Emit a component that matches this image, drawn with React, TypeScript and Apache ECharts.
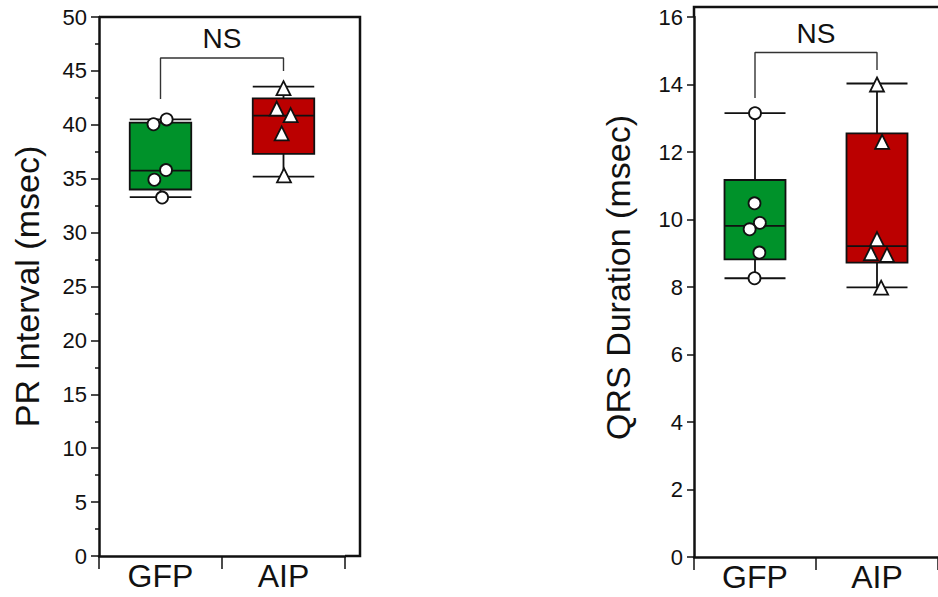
import React, { useEffect, useRef } from "react";
import * as echarts from "echarts";

// ---- data ----
const categories = ["GFP", "AIP"];

// PR interval (msec): boxplot stats [min, Q1, median, Q3, max]
const prBoxGFP = [33.3, 34.0, 35.75, 40.2, 40.5];
const prBoxAIP = [35.2, 37.3, 40.85, 42.45, 43.55];
const prGfpPoints = [40.05, 40.5, 35.8, 34.9, 33.25];
const prGfpJitter = [-0.057, 0.05, 0.045, -0.05, 0.013];
const prAipPoints = [43.4, 41.5, 40.9, 39.2, 35.3];
const prAipJitter = [0, -0.055, 0.058, -0.015, 0.004];

// QRS duration (msec)
const qrsBoxGFP = [8.26, 8.82, 9.81, 11.17, 13.15];
const qrsBoxAIP = [7.99, 8.72, 9.21, 12.55, 14.03];
const qrsGfpPoints = [13.15, 10.48, 9.9, 9.71, 9.02, 8.26];
const qrsGfpJitter = [0, -0.004, 0.04, -0.044, 0.036, -0.004];
const qrsAipPoints = [14.0, 12.3, 9.42, 9.0, 8.95, 7.98];
const qrsAipJitter = [0, 0.042, 0, -0.05, 0.082, 0.034];

// significance brackets
const bracketX = [0, 0, 1, 1];
const prBracketY = [42.4, 46.2, 46.2, 45.0];
const prNSY = 48.0;
const qrsBracketY = [13.6, 14.95, 14.95, 14.43];
const qrsNSY = 15.5;
const sigText = "NS";

const FONT = "'Liberation Sans', Arial, sans-serif";
const GREEN = "#00922a";
const RED = "#bb0000";
const INK = "#111";

function pts(vals: number[], jit: number[], idx: number) {
  return vals.map((v, i) => [idx + jit[i], v]);
}

export default function App() {
  const ref = useRef<HTMLDivElement>(null);
  useEffect(() => {
    if (!ref.current) return;
    const chart = echarts.init(ref.current, undefined, { renderer: "svg" });

    const catAxis = (gridIndex: number) => ({
      type: "category",
      gridIndex,
      data: categories,
      axisLine: { show: true, onZero: false, lineStyle: { color: INK, width: 2.5 } },
      axisTick: { show: true, alignWithLabel: false, length: 13, lineStyle: { color: INK, width: 1.5 } },
      axisLabel: { fontSize: 32, color: INK, fontFamily: FONT, margin: 4 },
      splitLine: { show: false },
    });
    const valX = (gridIndex: number) => ({
      type: "value",
      gridIndex,
      min: -0.5,
      max: 1.5,
      show: false,
    });

    const circle = {
      symbol: "circle",
      symbolSize: 12,
      itemStyle: { color: "#fff", opacity: 1, borderColor: INK, borderWidth: 1.8 },
    };
    const tri = {
      symbol: "triangle",
      symbolSize: 14,
      itemStyle: { color: "#fff", opacity: 1, borderColor: INK, borderWidth: 1.8 },
    };
    const bracketStyle = { color: "#333", width: 1.4, opacity: 1 };
    const nsLabel = {
      show: true,
      position: "inside",
      formatter: sigText,
      fontSize: 28,
      color: INK,
      opacity: 1,
      fontFamily: FONT,
    };

    chart.setOption({
      animation: false,
      textStyle: { fontFamily: FONT },
      grid: [
        { left: 99, top: 17, width: 246, height: 539 },
        { left: 694, top: 17, width: 251, height: 540 },
      ],
      xAxis: [catAxis(0), valX(0), catAxis(1), valX(1)],
      yAxis: [
        {
          type: "value",
          gridIndex: 0,
          min: 0,
          max: 50,
          interval: 5,
          name: "PR Interval (msec)",
          nameLocation: "middle",
          nameGap: 55,
          nameTextStyle: { fontSize: 34, color: INK, fontFamily: FONT },
          axisLine: { show: true, onZero: false, lineStyle: { color: INK, width: 2.5 } },
          axisTick: { show: true, length: 8, lineStyle: { color: INK, width: 1.5 } },
          minorTick: { show: true, splitNumber: 2, length: 4, lineStyle: { color: INK, width: 1.5 } },
          axisLabel: { fontSize: 22, color: INK, fontFamily: FONT, margin: 12 },
          splitLine: { show: false },
        },
        {
          type: "value",
          gridIndex: 1,
          min: 0,
          max: 16,
          interval: 2,
          name: "QRS Duration (msec)",
          nameLocation: "middle",
          nameGap: 59,
          nameTextStyle: { fontSize: 34, color: INK, fontFamily: FONT, padding: [0, 0, 0, 19] },
          axisLine: { show: true, onZero: false, lineStyle: { color: INK, width: 2.5 } },
          axisTick: { show: true, length: 7, lineStyle: { color: INK, width: 1.5 } },
          axisLabel: { fontSize: 22, color: INK, fontFamily: FONT, margin: 11 },
          splitLine: { show: false },
        },
      ],
      series: [
        {
          type: "boxplot",
          xAxisIndex: 0,
          yAxisIndex: 0,
          boxWidth: ["50%", "50%"],
          itemStyle: { borderColor: INK, borderWidth: 1.8 },
          data: [
            { value: prBoxGFP, itemStyle: { color: GREEN } },
            { value: prBoxAIP, itemStyle: { color: RED } },
          ],
          silent: true,
        },
        {
          type: "boxplot",
          xAxisIndex: 2,
          yAxisIndex: 1,
          boxWidth: ["50%", "50%"],
          itemStyle: { borderColor: INK, borderWidth: 1.8 },
          data: [
            { value: qrsBoxGFP, itemStyle: { color: GREEN } },
            { value: qrsBoxAIP, itemStyle: { color: RED } },
          ],
          silent: true,
        },
        { type: "scatter", xAxisIndex: 1, yAxisIndex: 0, z: 5, ...circle, data: pts(prGfpPoints, prGfpJitter, 0), silent: true },
        { type: "scatter", xAxisIndex: 1, yAxisIndex: 0, z: 5, ...tri, data: pts(prAipPoints, prAipJitter, 1), silent: true },
        { type: "scatter", xAxisIndex: 3, yAxisIndex: 1, z: 5, ...circle, data: pts(qrsGfpPoints, qrsGfpJitter, 0), silent: true },
        { type: "scatter", xAxisIndex: 3, yAxisIndex: 1, z: 5, ...tri, data: pts(qrsAipPoints, qrsAipJitter, 1), silent: true },
        {
          type: "line",
          xAxisIndex: 1,
          yAxisIndex: 0,
          symbol: "none",
          lineStyle: bracketStyle,
          data: bracketX.map((x, i) => [x, prBracketY[i]]),
          silent: true,
        },
        {
          type: "line",
          xAxisIndex: 3,
          yAxisIndex: 1,
          symbol: "none",
          lineStyle: bracketStyle,
          data: bracketX.map((x, i) => [x, qrsBracketY[i]]),
          silent: true,
        },
        {
          type: "scatter",
          xAxisIndex: 1,
          yAxisIndex: 0,
          symbolSize: 1,
          itemStyle: { color: "rgba(0,0,0,0)", opacity: 1 },
          label: nsLabel,
          data: [[0.5, prNSY]],
          silent: true,
        },
        {
          type: "scatter",
          xAxisIndex: 3,
          yAxisIndex: 1,
          symbolSize: 1,
          itemStyle: { color: "rgba(0,0,0,0)", opacity: 1 },
          label: nsLabel,
          data: [[0.5, qrsNSY]],
          silent: true,
        },
      ],
      graphic: [
        {
          type: "polyline",
          shape: { points: [[345, 556], [360, 556], [360, 17], [99, 17]] },
          style: { stroke: INK, lineWidth: 2.5, fill: "none" },
          silent: true,
        },
        {
          type: "polyline",
          shape: { points: [[694, 17], [694, 7], [938, 7]] },
          style: { stroke: INK, lineWidth: 2.5, fill: "none" },
          silent: true,
        },
      ],
    });
    return () => chart.dispose();
  }, []);
  return (
    <div
      ref={ref}
      style={{ position: "absolute", left: 0, top: 0, width: 938, height: 597, background: "#fff" }}
    />
  );
}
